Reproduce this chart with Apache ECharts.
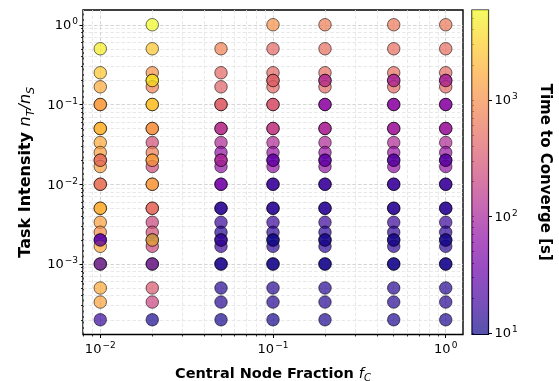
<!DOCTYPE html>
<html>
<head>
<meta charset="utf-8">
<script src="https://cdn.jsdelivr.net/npm/echarts@6/dist/echarts.min.js"></script>
<style>
  html, body { margin: 0; padding: 0; background: #fff; }
  #chart { width: 559px; height: 381px; }
</style>
</head>
<body>
<div id="chart"></div>
<script>
// Central node fractions f_C (x) and task intensities n_T/n_S (y)
const fractions = [0.01, 0.02, 0.05, 0.1, 0.2, 0.5, 1];
const intensities = [1, 0.5, 0.25, 0.2, 1/6, 0.1, 0.05, 1/30, 0.025, 0.02, 1/60,
                     0.01, 0.005, 1/300, 0.0025, 0.002, 1/600, 0.001, 0.0005, 1/3000, 0.0002];

// Time to converge [s]: one row per intensity, one column per fraction (null = not run)
const timeFirst = [
  [null, 5900, null, 1050,  730,  650,  650],  // 1
  [4900, 2700,  780,  460,  520,  520,  520],  // 1/2
  [2700, 1050,  460,  460,  520,  520,  500],  // 1/4
  [null, 3500, null,  420,  140,  115,  110],  // 1/5
  [1650,  780,  420,  460,  460,  480,  480],  // 1/6
  [1500, 2500,  400,  330,   68,   65,   62],  // 1/10
  [2000, 1100,  140,  180,  110,   90,   85],  // 1/20
  [1650,  270,  115,  115,  115,  115,  115],  // 1/30
  [1350,  730,   68,   75,   75,   75,   75],  // 1/40
  [1500, 1300,  110,   31,   31,   26,   26],  // 1/50
  [1350,  240,   68,   68,   68,   68,   68],  // 1/60
  [1500, 1300,   42,   17,   17,   17,   17],  // 1/100
  [1800,  520,   14,   14,   14,   14,   14],  // 1/200
  [1400,  220,   17,   17,   17,   17,   17],  // 1/300
  [1000,  270,   13,   14,   14,   14,   14],  // 1/400
  [  40,   14,   15,   11,   11,   11,   11],  // 1/500
  [1650,  220,   17,   14,   14,   14,   14],  // 1/600
  [1400, 1000,   12,   11,   11,   11,   11],  // 1/1000
  [1650,  330,   13,   13,   13,   13,   13],  // 1/2000
  [1450,  215,   13,   13,   13,   13,   13],  // 1/3000
  [  16,   11,   11,   11,   12,   12,   12]   // 1/5000
];

// Intensities reached by a second (n_T, n_S) pair; these runs are plotted on top
const repeatIntensities = [0.2, 0.1, 0.05, 0.02, 0.01, 0.005, 0.002, 0.001];
const timeRepeat = [
  [null, 4000, null,  420,  140,  115,  110],
  [1300, 2500,  400,  330,   68,   65,   62],
  [2000, 1100,  140,  180,  110,   90,   85],
  [ 450, 1300,  110,   31,   31,   26,   26],
  [ 460, 1300,   42,   17,   17,   17,   17],
  [1800,  520,   14,   14,   14,   14,   14],
  [  25, 2200,   15,  9.7,   11,   11,   11],
  [  20,   20,   12,   11,   11,   11,   11]
];

// Major tick positions (decades) on each axis
const xMajorTicks = [0.01, 0.1, 1];
const yMajorTicks = [0.001, 0.01, 0.1, 1];
const cbMajorTicks = [10, 100, 1000];

// matplotlib "plasma"
const plasma = ['#0d0887', '#41049d', '#6a00a8', '#8f0da4', '#b12a90', '#cc4778',
                '#e16462', '#f2844b', '#fca636', '#fcce25', '#f0f921'];

const FONT = 'DejaVu Sans';

function minorTicks(lo, hi) {
  const out = [];
  for (let e = lo; e <= hi; e++) {
    for (let m = 1; m <= 9; m++) out.push(m * Math.pow(10, e));
  }
  return out;
}

function buildPoints(rows, table) {
  const pts = [];
  rows.forEach((y, i) => {
    fractions.forEach((x, j) => {
      const t = table[i][j];
      if (t != null) pts.push([x, y, Math.log10(t), t]);
    });
  });
  return pts;
}

const firstPts = buildPoints(intensities, timeFirst);
const repeatPts = buildPoints(repeatIntensities, timeRepeat);
const allTimes = firstPts.concat(repeatPts).map(p => p[3]);
const cbMin = Math.min(...allTimes);
const cbMax = Math.max(...allTimes);

// axis limits: data extent padded by 5% in log space
function logPad(lo, hi) {
  const a = Math.log10(lo), b = Math.log10(hi), m = (b - a) * 0.05;
  return [Math.pow(10, a - m), Math.pow(10, b + m)];
}
const xLim = logPad(Math.min(...fractions), Math.max(...fractions));
const yLim = logPad(Math.min(...intensities), Math.max(...intensities));

function powLabel(v) {
  const e = Math.round(Math.log10(v));
  return '{b|10}{s|' + String(e).replace('-', '\u2212') + '}';
}
const powRich = {
  b: { fontFamily: FONT, fontSize: 13, color: '#000', lineHeight: 15, verticalAlign: 'bottom' },
  s: { fontFamily: FONT, fontSize: 9, color: '#000', lineHeight: 9, verticalAlign: 'top', padding: [0, 0, 0, 1] }
};
function titleRich(size) {
  return {
    b: { fontFamily: FONT, fontSize: size, fontWeight: 'bold', color: '#000', lineHeight: size + 4 },
    i: { fontFamily: FONT, fontSize: size, fontStyle: 'italic', color: '#000', lineHeight: size + 4 },
    sub: { fontFamily: FONT, fontSize: size * 0.7, fontStyle: 'italic', color: '#000', lineHeight: size * 0.7, verticalAlign: 'bottom' }
  };
}

const gridLine = (color) => ({ show: true, lineStyle: { color: color, width: 0.8, type: [3.5, 2] } });

const chart = echarts.init(document.getElementById('chart'), null, { renderer: 'canvas' });

chart.setOption({
  animation: false,
  backgroundColor: '#fff',
  grid: [
    { left: 83, top: 10, width: 380, height: 324.5, outerBoundsMode: 'none', containLabel: false,
      show: true, borderColor: '#000', borderWidth: 1.4, backgroundColor: 'transparent' },
    { left: 472, top: 10, width: 16.5, height: 324.5, outerBoundsMode: 'none', containLabel: false,
      show: true, borderColor: '#000', borderWidth: 1.2, backgroundColor: 'transparent' }
  ],
  xAxis: [
    { // minor ticks + minor grid + labels
      type: 'log', logBase: 10, gridIndex: 0, position: 'bottom', min: xLim[0], max: xLim[1],
      axisLine: { show: false },
      axisTick: { show: true, inside: false, length: 2, lineStyle: { color: '#000', width: 0.8 }, customValues: minorTicks(-3, 0) },
      minorTick: { show: false },
      splitLine: gridLine('#e2e2e2'),
      axisLabel: { customValues: xMajorTicks, formatter: powLabel, rich: powRich, margin: 7 },
      name: '{b|Central Node Fraction }{i|f}{sub|C}',
      nameLocation: 'middle', nameGap: 30,
      nameTextStyle: { rich: titleRich(14.5) }
    },
    { // major ticks + major grid
      type: 'log', logBase: 10, gridIndex: 0, position: 'bottom', min: xLim[0], max: xLim[1],
      axisLine: { show: false },
      axisTick: { show: true, inside: false, length: 3.5, lineStyle: { color: '#000', width: 1 }, customValues: xMajorTicks },
      splitLine: gridLine('#cfcfcf'),
      axisLabel: { show: false }
    },
    { // colorbar x (unit span)
      type: 'value', gridIndex: 1, min: 0, max: 1, show: false
    }
  ],
  yAxis: [
    {
      type: 'log', logBase: 10, gridIndex: 0, position: 'left', min: yLim[0], max: yLim[1],
      axisLine: { show: false },
      axisTick: { show: true, inside: false, length: 2, lineStyle: { color: '#000', width: 0.8 }, customValues: minorTicks(-4, 0) },
      minorTick: { show: false },
      splitLine: gridLine('#e2e2e2'),
      axisLabel: { customValues: yMajorTicks, formatter: powLabel, rich: powRich, margin: 5 },
      name: '{b|Task Intensity }{i|n}{sub|T}{i|/n}{sub|S}',
      nameLocation: 'middle', nameGap: 44, nameRotate: 90,
      nameTextStyle: { rich: titleRich(16) }
    },
    {
      type: 'log', logBase: 10, gridIndex: 0, position: 'left', min: yLim[0], max: yLim[1],
      axisLine: { show: false },
      axisTick: { show: true, inside: false, length: 3.5, lineStyle: { color: '#000', width: 1 }, customValues: yMajorTicks },
      splitLine: gridLine('#cfcfcf'),
      axisLabel: { show: false }
    },
    { // colorbar scale
      type: 'log', logBase: 10, gridIndex: 1, min: cbMin, max: cbMax, position: 'right',
      axisLine: { show: false },
      axisTick: { show: true, inside: false, length: 2, lineStyle: { color: '#000', width: 0.8 }, customValues: minorTicks(1, 3) },
      splitLine: { show: false },
      axisLabel: { customValues: cbMajorTicks, formatter: powLabel, rich: powRich, margin: 6 },
      name: 'Time to Converge [s]',
      nameLocation: 'middle', nameGap: 49, nameRotate: -90,
      nameTextStyle: { fontFamily: FONT, fontSize: 15, fontWeight: 'bold', color: '#000' }
    },
    {
      type: 'log', logBase: 10, gridIndex: 1, min: cbMin, max: cbMax, position: 'right',
      axisLine: { show: false },
      axisTick: { show: true, inside: false, length: 3.5, lineStyle: { color: '#000', width: 1 }, customValues: cbMajorTicks },
      splitLine: { show: false },
      axisLabel: { show: false }
    }
  ],
  visualMap: {
    show: false, type: 'continuous', dimension: 2, seriesIndex: [0, 1],
    min: Math.log10(cbMin), max: Math.log10(cbMax),
    inRange: { color: plasma }
  },
  series: [
    {
      type: 'scatter', xAxisIndex: 0, yAxisIndex: 0, data: firstPts,
      symbol: 'circle', symbolSize: 12.5,
      itemStyle: { opacity: 0.7, borderColor: '#000', borderWidth: 0.8 },
      emphasis: { disabled: true }
    },
    {
      type: 'scatter', xAxisIndex: 0, yAxisIndex: 0, data: repeatPts,
      symbol: 'circle', symbolSize: 12.5,
      itemStyle: { opacity: 0.7, borderColor: '#000', borderWidth: 0.8 },
      emphasis: { disabled: true }
    },
    {
      type: 'custom', xAxisIndex: 2, yAxisIndex: 2, clip: false,
      data: [[0, cbMin]],
      renderItem: function (params, api) {
        const top = api.coord([0, cbMax]);
        const bot = api.coord([1, cbMin]);
        const stops = plasma.map((c, i) => ({ offset: 1 - i / (plasma.length - 1), color: c })).reverse();
        return {
          type: 'rect',
          shape: { x: top[0], y: top[1], width: bot[0] - top[0], height: bot[1] - top[1] },
          style: { fill: new echarts.graphic.LinearGradient(0, 0, 0, 1, stops), opacity: 0.7 }
        };
      },
      silent: true
    }
  ]
});
</script>
</body>
</html>
